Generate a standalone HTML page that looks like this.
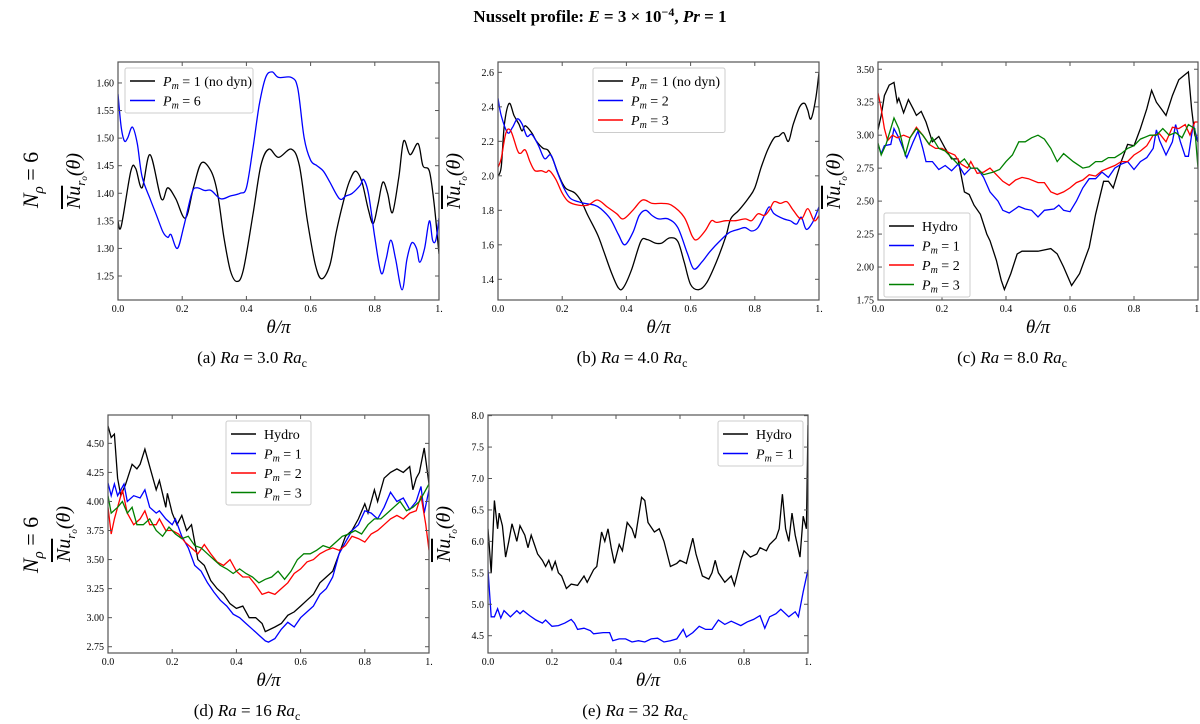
<!DOCTYPE html>
<html><head><meta charset="utf-8"><style>
body{margin:0;background:#fff}
svg{display:block;font-family:"Liberation Serif",serif}
</style></head><body>
<svg id="fig" width="1200" height="724" viewBox="0 0 1200 724">
<text x="600" y="22" text-anchor="middle" font-size="17" font-weight="bold">Nusselt profile: <tspan font-style="italic">E</tspan> = 3 × 10<tspan dy="-6" font-size="12">−4</tspan><tspan dy="6">,  </tspan><tspan font-style="italic">Pr</tspan> = 1</text>
<text transform="translate(38,180) rotate(-90)" text-anchor="middle" font-size="22"><tspan font-style="italic">N</tspan><tspan font-style="italic" font-size="15" dy="5">ρ</tspan><tspan dy="-5"> = 6</tspan></text>
<text transform="translate(38,545) rotate(-90)" text-anchor="middle" font-size="22"><tspan font-style="italic">N</tspan><tspan font-style="italic" font-size="15" dy="5">ρ</tspan><tspan dy="-5"> = 6</tspan></text>
</svg>
<script>
const aTh=[0,0.01,0.04,0.055,0.075,0.1,0.135,0.155,0.18,0.21,0.235,0.26,0.29,0.31,0.33,0.35,0.37,0.39,0.42,0.445,0.47,0.5,0.54,0.565,0.59,0.615,0.635,0.66,0.68,0.7,0.72,0.74,0.76,0.78,0.795,0.81,0.825,0.84,0.855,0.875,0.89,0.91,0.935,0.95,0.97,0.985,1.0];
const aBlack=[1.35,1.34,1.44,1.445,1.41,1.47,1.39,1.41,1.39,1.355,1.41,1.455,1.44,1.40,1.32,1.26,1.24,1.26,1.36,1.45,1.48,1.465,1.48,1.45,1.35,1.27,1.245,1.27,1.33,1.38,1.42,1.44,1.42,1.37,1.345,1.38,1.42,1.40,1.365,1.43,1.495,1.47,1.49,1.45,1.44,1.38,1.29];
const aTh2=[0,0.01,0.02,0.03,0.045,0.06,0.075,0.1,0.12,0.14,0.155,0.165,0.185,0.205,0.23,0.245,0.27,0.29,0.32,0.35,0.38,0.40,0.42,0.44,0.46,0.48,0.50,0.54,0.56,0.58,0.60,0.62,0.64,0.66,0.69,0.71,0.73,0.755,0.765,0.78,0.80,0.82,0.835,0.85,0.865,0.885,0.90,0.915,0.93,0.94,0.955,0.97,0.98,0.99,1.0];
const aBlue=[1.58,1.52,1.495,1.50,1.52,1.49,1.43,1.39,1.36,1.33,1.32,1.325,1.30,1.34,1.40,1.41,1.405,1.405,1.39,1.395,1.40,1.41,1.48,1.56,1.61,1.62,1.61,1.61,1.59,1.50,1.46,1.45,1.44,1.42,1.39,1.395,1.40,1.415,1.425,1.40,1.32,1.255,1.28,1.315,1.28,1.225,1.28,1.31,1.30,1.275,1.30,1.35,1.315,1.315,1.355];

const bThK=[0,0.01,0.02,0.035,0.05,0.065,0.075,0.085,0.105,0.12,0.14,0.155,0.17,0.19,0.21,0.24,0.26,0.28,0.31,0.33,0.355,0.375,0.39,0.415,0.445,0.465,0.49,0.51,0.535,0.56,0.58,0.60,0.625,0.65,0.68,0.71,0.725,0.75,0.78,0.80,0.82,0.84,0.86,0.875,0.89,0.905,0.92,0.94,0.955,0.965,0.975,0.99,1.0];
const bBlack=[2.0,2.05,2.30,2.42,2.35,2.30,2.26,2.29,2.25,2.20,2.16,2.15,2.10,2.00,1.93,1.90,1.85,1.77,1.66,1.56,1.43,1.35,1.35,1.45,1.62,1.63,1.61,1.61,1.64,1.62,1.50,1.37,1.34,1.38,1.50,1.65,1.75,1.80,1.87,1.93,2.05,2.15,2.22,2.23,2.25,2.20,2.30,2.40,2.42,2.38,2.33,2.45,2.60];
const bThB=[0,0.01,0.03,0.045,0.06,0.075,0.09,0.105,0.125,0.145,0.165,0.185,0.205,0.225,0.25,0.27,0.3,0.32,0.35,0.375,0.395,0.42,0.44,0.46,0.48,0.50,0.53,0.56,0.59,0.61,0.635,0.66,0.69,0.72,0.75,0.77,0.79,0.81,0.83,0.845,0.86,0.89,0.91,0.93,0.945,0.96,0.98,1.0];
const bBlue=[2.45,2.35,2.25,2.28,2.33,2.30,2.23,2.24,2.18,2.10,2.12,2.02,1.93,1.87,1.85,1.84,1.83,1.81,1.75,1.66,1.60,1.67,1.77,1.80,1.77,1.75,1.75,1.70,1.55,1.46,1.50,1.56,1.62,1.67,1.69,1.70,1.68,1.70,1.77,1.82,1.78,1.75,1.74,1.72,1.76,1.69,1.73,1.82];
const bThR=[0,0.01,0.025,0.04,0.06,0.07,0.085,0.1,0.115,0.135,0.15,0.16,0.18,0.2,0.22,0.25,0.28,0.31,0.34,0.37,0.39,0.42,0.45,0.48,0.51,0.54,0.58,0.605,0.62,0.645,0.665,0.68,0.71,0.74,0.77,0.79,0.81,0.83,0.845,0.86,0.88,0.9,0.92,0.945,0.965,0.985,1.0];
const bRed=[2.05,2.10,2.25,2.26,2.15,2.13,2.15,2.08,2.03,2.03,2.02,2.03,1.98,1.90,1.85,1.83,1.83,1.86,1.82,1.78,1.75,1.80,1.86,1.84,1.84,1.83,1.76,1.65,1.63,1.68,1.74,1.73,1.74,1.74,1.75,1.74,1.78,1.77,1.80,1.85,1.84,1.85,1.80,1.75,1.81,1.74,1.77];

const cThK=[0,0.01,0.02,0.035,0.05,0.06,0.065,0.08,0.095,0.11,0.12,0.135,0.15,0.17,0.19,0.21,0.23,0.25,0.27,0.285,0.3,0.32,0.34,0.35,0.37,0.385,0.395,0.415,0.435,0.45,0.5,0.54,0.56,0.58,0.605,0.63,0.66,0.68,0.705,0.72,0.735,0.76,0.78,0.8,0.82,0.84,0.855,0.87,0.885,0.9,0.92,0.94,0.955,0.97,0.98,0.99,1.0];
const cBlack=[3.04,3.15,3.30,3.38,3.40,3.25,3.28,3.17,3.27,3.20,3.15,3.18,3.10,2.95,2.99,2.90,2.82,2.82,2.57,2.55,2.47,2.40,2.25,2.20,2.05,1.90,1.83,1.95,2.10,2.12,2.12,2.14,2.10,2.00,1.86,1.95,2.15,2.40,2.65,2.65,2.60,2.80,2.93,2.92,3.05,3.20,3.34,3.25,3.20,3.15,3.30,3.42,3.45,3.48,3.20,3.00,2.95];
const cThB=[0,0.01,0.02,0.04,0.05,0.065,0.09,0.11,0.125,0.14,0.15,0.17,0.19,0.21,0.23,0.25,0.27,0.29,0.31,0.33,0.35,0.375,0.39,0.41,0.44,0.46,0.48,0.5,0.52,0.55,0.565,0.58,0.6,0.62,0.64,0.66,0.68,0.70,0.72,0.74,0.76,0.78,0.8,0.82,0.84,0.86,0.87,0.88,0.9,0.92,0.93,0.945,0.96,0.97,0.985,1.0];
const cBlue=[2.93,2.86,2.92,2.93,3.05,2.98,2.83,2.95,3.03,2.90,2.80,2.80,2.74,2.77,2.73,2.78,2.70,2.75,2.75,2.68,2.57,2.50,2.43,2.41,2.46,2.44,2.43,2.38,2.43,2.44,2.47,2.43,2.42,2.50,2.60,2.67,2.67,2.72,2.68,2.75,2.78,2.80,2.74,2.80,2.83,2.90,3.04,2.96,2.85,2.95,3.08,2.95,2.84,2.84,3.08,2.95];
const cThR=[0,0.01,0.02,0.03,0.045,0.06,0.08,0.1,0.12,0.14,0.16,0.18,0.2,0.22,0.24,0.26,0.28,0.29,0.31,0.33,0.35,0.37,0.39,0.41,0.43,0.45,0.47,0.5,0.52,0.54,0.56,0.58,0.6,0.62,0.64,0.66,0.68,0.70,0.72,0.74,0.76,0.78,0.8,0.82,0.84,0.86,0.88,0.9,0.92,0.94,0.96,0.975,0.99,1.0];
const cRed=[3.32,3.20,3.05,2.96,3.00,2.98,3.00,2.98,3.06,3.00,2.93,2.90,2.90,2.87,2.85,2.78,2.75,2.80,2.71,2.72,2.75,2.70,2.65,2.62,2.66,2.68,2.67,2.64,2.64,2.57,2.55,2.57,2.60,2.64,2.66,2.70,2.69,2.73,2.75,2.77,2.80,2.80,2.85,2.88,2.92,3.00,3.01,2.95,3.06,3.05,3.08,3.00,3.10,3.10];
const cThG=[0,0.01,0.025,0.04,0.05,0.065,0.085,0.1,0.12,0.14,0.16,0.17,0.19,0.21,0.23,0.25,0.27,0.29,0.31,0.33,0.36,0.38,0.40,0.42,0.44,0.46,0.48,0.5,0.52,0.54,0.56,0.58,0.61,0.64,0.66,0.68,0.70,0.72,0.74,0.76,0.78,0.8,0.82,0.85,0.87,0.89,0.91,0.93,0.95,0.97,0.99,1.0];
const cGreen=[2.94,2.85,2.93,3.05,3.13,3.05,2.85,2.98,3.05,3.00,2.93,2.98,2.90,2.88,2.83,2.78,2.82,2.75,2.75,2.70,2.72,2.74,2.80,2.85,2.95,2.95,2.98,3.00,2.97,2.90,2.80,2.86,2.80,2.75,2.76,2.80,2.80,2.83,2.83,2.86,2.90,2.92,2.97,3.00,3.00,3.05,3.00,3.02,2.98,3.08,3.05,2.75];

const dThK=[0,0.01,0.02,0.03,0.04,0.055,0.075,0.09,0.1,0.115,0.13,0.15,0.16,0.18,0.185,0.2,0.215,0.23,0.245,0.26,0.27,0.28,0.3,0.32,0.34,0.36,0.38,0.4,0.42,0.44,0.46,0.48,0.49,0.52,0.54,0.56,0.58,0.6,0.62,0.64,0.66,0.68,0.70,0.72,0.74,0.76,0.78,0.8,0.81,0.83,0.84,0.86,0.88,0.9,0.92,0.94,0.95,0.96,0.97,0.985,1.0];
const dBlack=[4.65,4.55,4.58,4.20,4.05,4.15,4.32,4.28,4.32,4.45,4.30,4.10,4.18,3.95,4.07,3.90,3.80,3.88,3.75,3.80,3.65,3.50,3.45,3.32,3.25,3.20,3.12,3.08,3.10,3.00,3.00,2.95,2.88,2.92,2.95,3.02,3.05,3.10,3.15,3.20,3.30,3.35,3.40,3.55,3.70,3.75,3.85,3.98,3.90,4.10,4.00,4.20,4.25,4.28,4.25,4.30,4.10,4.20,4.25,4.46,4.15];
const dThB=[0,0.01,0.02,0.03,0.04,0.05,0.06,0.08,0.1,0.115,0.13,0.15,0.16,0.18,0.2,0.21,0.23,0.25,0.27,0.29,0.31,0.33,0.35,0.37,0.39,0.41,0.43,0.45,0.47,0.49,0.50,0.52,0.54,0.56,0.58,0.60,0.62,0.64,0.66,0.68,0.70,0.72,0.74,0.76,0.78,0.80,0.82,0.84,0.86,0.88,0.90,0.92,0.94,0.96,0.975,0.985,1.0];
const dBlue=[4.16,4.05,4.15,4.05,4.10,4.15,4.00,4.05,4.03,4.10,3.95,3.90,3.92,3.85,3.80,3.85,3.70,3.60,3.45,3.40,3.30,3.22,3.15,3.10,3.03,3.00,2.95,2.90,2.85,2.80,2.79,2.82,2.90,2.96,2.92,3.00,3.05,3.10,3.20,3.25,3.35,3.55,3.65,3.75,3.80,3.92,3.90,3.85,3.95,4.08,4.00,4.03,3.93,4.00,4.13,3.90,4.10];
const dThR=[0,0.01,0.02,0.03,0.045,0.06,0.07,0.08,0.1,0.115,0.13,0.15,0.16,0.18,0.2,0.22,0.24,0.26,0.28,0.3,0.32,0.34,0.36,0.38,0.40,0.42,0.44,0.46,0.48,0.5,0.52,0.54,0.56,0.58,0.6,0.62,0.64,0.66,0.68,0.70,0.72,0.74,0.76,0.78,0.80,0.82,0.84,0.86,0.88,0.90,0.92,0.94,0.96,0.975,0.99,1.0];
const dRed=[3.95,3.72,3.85,3.95,4.10,3.90,3.85,3.80,3.85,3.92,3.80,3.80,3.85,3.75,3.75,3.72,3.65,3.60,3.55,3.63,3.55,3.48,3.45,3.50,3.40,3.35,3.35,3.28,3.20,3.22,3.20,3.25,3.30,3.38,3.42,3.48,3.50,3.55,3.58,3.60,3.58,3.62,3.70,3.68,3.65,3.72,3.75,3.80,3.85,3.88,3.85,3.90,3.92,4.05,3.80,3.58];
const dThG=[0,0.01,0.03,0.045,0.06,0.075,0.09,0.11,0.13,0.15,0.17,0.19,0.21,0.23,0.25,0.27,0.29,0.31,0.33,0.35,0.37,0.39,0.41,0.43,0.45,0.47,0.49,0.51,0.53,0.55,0.57,0.59,0.61,0.63,0.65,0.67,0.69,0.71,0.73,0.75,0.77,0.79,0.81,0.83,0.85,0.87,0.89,0.91,0.93,0.95,0.97,0.99,1.0];
const dGreen=[4.05,3.90,3.95,4.00,3.90,3.95,3.80,3.80,3.85,3.75,3.70,3.78,3.72,3.68,3.70,3.62,3.60,3.55,3.50,3.45,3.42,3.38,3.42,3.38,3.35,3.30,3.33,3.35,3.40,3.33,3.40,3.50,3.55,3.55,3.58,3.62,3.60,3.65,3.70,3.72,3.75,3.72,3.80,3.85,3.85,3.90,3.95,4.00,3.92,3.95,4.00,4.10,4.15];

const eThK=[0,0.01,0.02,0.03,0.035,0.045,0.055,0.065,0.075,0.085,0.09,0.1,0.115,0.125,0.135,0.145,0.155,0.17,0.18,0.19,0.2,0.21,0.22,0.23,0.245,0.26,0.28,0.3,0.31,0.33,0.34,0.355,0.365,0.375,0.385,0.395,0.41,0.42,0.435,0.45,0.46,0.48,0.49,0.5,0.52,0.535,0.55,0.57,0.59,0.6,0.62,0.64,0.65,0.67,0.69,0.7,0.71,0.72,0.74,0.76,0.77,0.79,0.8,0.82,0.84,0.85,0.87,0.88,0.9,0.91,0.92,0.93,0.94,0.95,0.96,0.975,0.985,0.995,1.0];
const eBlack=[6.2,5.5,6.65,6.2,6.45,6.25,5.75,6.0,6.28,6.1,6.0,6.25,6.1,5.9,6.1,5.95,5.8,5.7,5.6,5.7,5.55,5.68,5.5,5.45,5.25,5.32,5.3,5.45,5.35,5.55,5.6,6.15,6.0,6.2,5.9,5.65,5.95,5.85,6.3,6.2,6.05,6.7,6.65,6.3,6.15,6.2,6.0,5.6,5.65,5.7,5.65,6.05,5.8,5.45,5.4,5.5,5.7,5.5,5.35,5.45,5.3,5.7,5.85,5.75,5.8,5.9,5.85,5.95,6.05,6.2,6.75,6.2,6.0,6.45,6.1,5.75,6.4,6.2,7.85];
const eThB=[0,0.01,0.02,0.03,0.04,0.05,0.07,0.09,0.1,0.11,0.13,0.15,0.17,0.18,0.2,0.22,0.24,0.26,0.27,0.28,0.3,0.32,0.33,0.36,0.38,0.39,0.41,0.43,0.45,0.47,0.49,0.51,0.53,0.55,0.57,0.59,0.61,0.62,0.64,0.66,0.68,0.7,0.72,0.74,0.76,0.79,0.81,0.83,0.85,0.865,0.88,0.9,0.915,0.94,0.96,0.97,0.985,1.0];
const eBlue=[5.55,4.8,4.8,4.93,4.78,4.9,4.8,4.9,4.85,4.9,4.82,4.75,4.7,4.75,4.65,4.66,4.7,4.76,4.7,4.6,4.62,4.58,4.53,4.55,4.55,4.42,4.45,4.45,4.4,4.42,4.4,4.45,4.46,4.4,4.42,4.45,4.6,4.48,4.55,4.65,4.6,4.6,4.75,4.68,4.73,4.66,4.72,4.76,4.82,4.62,4.8,4.85,4.92,4.8,4.88,4.8,5.2,5.55];

const xTicks=[0,0.2,0.4,0.6,0.8,1.0];
const xTickLabels=["0.0","0.2","0.4","0.6","0.8","1."];
const aYTicks=[1.25,1.30,1.35,1.40,1.45,1.50,1.55,1.60];
const bYTicks=[1.4,1.6,1.8,2.0,2.2,2.4,2.6];
const cYTicks=[1.75,2.00,2.25,2.50,2.75,3.00,3.25,3.50];
const dYTicks=[2.75,3.00,3.25,3.50,3.75,4.00,4.25,4.50];
const eYTicks=[4.5,5.0,5.5,6.0,6.5,7.0,7.5,8.0];

const NS="http://www.w3.org/2000/svg";
const svg=document.getElementById('fig');
function mk(tag,attrs,parent){const e=document.createElementNS(NS,tag);for(const k in attrs)e.setAttribute(k,attrs[k]);(parent||svg).appendChild(e);return e;}

const COL={k:"#000",b:"#0000ff",r:"#ff0000",g:"#008000"};

function panel(p){
  const g=mk('g',{});
  
  
  const X=v=>p.x0+(v-0)/(1-0)*(p.x1-p.x0);
  const Y=v=>p.y1-(v-p.ymin)/(p.ymax-p.ymin)*(p.y1-p.y0);
  const cp=mk('clipPath',{id:'clip-'+p.id},g);
  mk('rect',{x:p.x0,y:p.y0,width:p.x1-p.x0,height:p.y1-p.y0},cp);
  p.series.forEach(s=>{
    let d='';
    s.th.forEach((t,i)=>{d+=(i?'L':'M')+X(t).toFixed(1)+','+Y(s.v[i]).toFixed(1);});
    if(p.smooth){
      const pts=s.th.map((t,i)=>[X(t),Y(s.v[i])]);
      d='M'+pts[0][0]+','+pts[0][1];
      for(let i=0;i<pts.length-1;i++){
        const p0=pts[Math.max(0,i-1)],p1=pts[i],p2=pts[i+1],p3=pts[Math.min(pts.length-1,i+2)];
        const c1=[p1[0]+(p2[0]-p0[0])/6,p1[1]+(p2[1]-p0[1])/6];
        const c2=[p2[0]-(p3[0]-p1[0])/6,p2[1]-(p3[1]-p1[1])/6];
        d+='C'+c1[0].toFixed(1)+','+c1[1].toFixed(1)+' '+c2[0].toFixed(1)+','+c2[1].toFixed(1)+' '+p2[0].toFixed(1)+','+p2[1].toFixed(1);
      }
    }
    const path=mk('path',{d:d,fill:'none',stroke:COL[s.c],'stroke-width':1.3,'clip-path':'url(#clip-'+p.id+')'},g);
    
    
  });
  const fr=mk('rect',{x:p.x0,y:p.y0,width:p.x1-p.x0,height:p.y1-p.y0,fill:'none',stroke:'#555','stroke-width':1.2},g);
  
  
  xTicks.forEach((t,i)=>{
    const x=X(t);
    mk('line',{x1:x,x2:x,y1:p.y1,y2:p.y1-4,stroke:'#555'},g);
    mk('line',{x1:x,x2:x,y1:p.y0,y2:p.y0+4,stroke:'#555'},g);
    const tx=mk('text',{x:x,y:p.y1+12,'text-anchor':'middle','font-size':10},g);
    tx.textContent=xTickLabels[i];
    
    
  });
  p.yt.forEach(t=>{
    const y=Y(t);
    mk('line',{x1:p.x0,x2:p.x0+4,y1:y,y2:y,stroke:'#555'},g);
    mk('line',{x1:p.x1,x2:p.x1-4,y1:y,y2:y,stroke:'#555'},g);
    const tx=mk('text',{x:p.x0-4,y:y+3.5,'text-anchor':'end','font-size':10},g);
    tx.textContent=t.toFixed(p.dec);
    
    
  });
  const xl=mk('text',{x:(p.x0+p.x1)/2,y:p.y1+33,'text-anchor':'middle','font-size':19,'font-style':'italic'},g);
  xl.textContent='θ/π';
  
  
  const yl=mk('text',{transform:'translate('+(p.x0-38)+','+((p.y0+p.y1)/2)+') rotate(-90)','text-anchor':'middle','font-size':20,'font-style':'italic'},g);
  yl.innerHTML='<tspan text-decoration="overline">Nu</tspan><tspan font-size="13" dy="5">r</tspan><tspan font-size="9" dy="2">o</tspan><tspan dy="-7">(θ)</tspan>';
  
  
  const cap=mk('text',{x:p.capX,y:p.y1+63,'text-anchor':'middle','font-size':17},g);
  cap.innerHTML='('+p.id+') <tspan font-style="italic">Ra</tspan> = '+p.ra+' <tspan font-style="italic">Ra</tspan><tspan font-size="12" dy="4">c</tspan>';
  
  
  const L=p.leg;
  const lg=mk('g',{},g);
  
  
  mk('rect',{x:L.x,y:L.y,width:L.w,height:p.series.length*19.5+6,fill:'#fff',stroke:'#ccc',rx:2},lg);
  p.series.forEach((s,i)=>{
    const yy=L.y+13+i*19.5;
    const e=mk('g',{},lg);
    
    
    mk('line',{x1:L.x+5,x2:L.x+30,y1:yy,y2:yy,stroke:COL[s.c],'stroke-width':1.5},e);
    const t=mk('text',{x:L.x+38,y:yy+5,'font-size':14},e);
    t.innerHTML=s.label;
  });
}
const pm=n=>'<tspan font-style="italic">P</tspan><tspan font-style="italic" font-size="10" dy="3">m</tspan><tspan dy="-3"> = '+n+'</tspan>';

panel({id:'a',x0:118,x1:439,y0:62,y1:300,ymin:1.2065,ymax:1.638,yt:aYTicks,dec:2,smooth:true,ra:'3.0',capX:252,
  leg:{x:125,y:68,w:128},
  series:[{name:'pm1-nodyn',c:'k',th:aTh,v:aBlack,label:pm('1 (no dyn)')},{name:'pm6',c:'b',th:aTh2,v:aBlue,label:pm('6')}]});
panel({id:'b',x0:498,x1:819,y0:62,y1:300,ymin:1.28,ymax:2.66,yt:bYTicks,dec:1,smooth:true,ra:'4.0',capX:632,
  leg:{x:593,y:68,w:132},
  series:[{name:'pm1-nodyn',c:'k',th:bThK,v:bBlack,label:pm('1 (no dyn)')},{name:'pm2',c:'b',th:bThB,v:bBlue,label:pm('2')},{name:'pm3',c:'r',th:bThR,v:bRed,label:pm('3')}]});
panel({id:'c',x0:878,x1:1198,y0:62,y1:300,ymin:1.75,ymax:3.555,yt:cYTicks,dec:2,smooth:false,ra:'8.0',capX:1012,
  leg:{x:884,y:213,w:86},
  series:[{name:'hydro',c:'k',th:cThK,v:cBlack,label:'Hydro'},{name:'pm1',c:'b',th:cThB,v:cBlue,label:pm('1')},{name:'pm2',c:'r',th:cThR,v:cRed,label:pm('2')},{name:'pm3',c:'g',th:cThG,v:cGreen,label:pm('3')}]});
panel({id:'d',x0:108,x1:429,y0:415,y1:653,ymin:2.696,ymax:4.744,yt:dYTicks,dec:2,smooth:false,ra:'16',capX:247,
  leg:{x:226,y:421,w:85},
  series:[{name:'hydro',c:'k',th:dThK,v:dBlack,label:'Hydro'},{name:'pm1',c:'b',th:dThB,v:dBlue,label:pm('1')},{name:'pm2',c:'r',th:dThR,v:dRed,label:pm('2')},{name:'pm3',c:'g',th:dThG,v:dGreen,label:pm('3')}]});
panel({id:'e',x0:488,x1:808,y0:415,y1:653,ymin:4.225,ymax:8.01,yt:eYTicks,dec:1,smooth:false,ra:'32',capX:635,
  leg:{x:718,y:421,w:85},
  series:[{name:'hydro',c:'k',th:eThK,v:eBlack,label:'Hydro'},{name:'pm1',c:'b',th:eThB,v:eBlue,label:pm('1')}]});
</script>
</body></html>
